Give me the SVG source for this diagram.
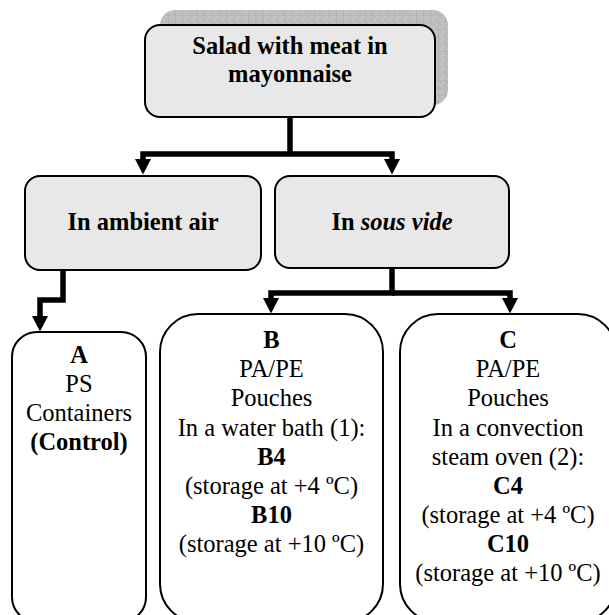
<svg xmlns="http://www.w3.org/2000/svg" width="609" height="615" viewBox="0 0 609 615">
<style>
.b{font-weight:bold}
.gray{fill:#e8e8e8;stroke:#000;stroke-width:2}
.white{fill:#fff;stroke:#000;stroke-width:2}
.conn{fill:none;stroke:#000;stroke-width:5.5;stroke-linejoin:miter;stroke-linecap:butt}
</style>
<defs>
<pattern id="grid" width="7.3" height="7.3" patternUnits="userSpaceOnUse">
<rect width="7.3" height="7.3" fill="#c2c2c2"/>
<path d="M0,0 H7.3 M0,0 V7.3" stroke="#a4a4a4" stroke-width="1"/>
<rect x="2" y="2" width="1.6" height="1.6" fill="#b2b2b2"/>
<rect x="4.6" y="4.6" width="1.6" height="1.6" fill="#b2b2b2"/>
</pattern>
<marker id="ah" markerUnits="userSpaceOnUse" markerWidth="17" markerHeight="18" viewBox="0 -9 17 18" refX="0" refY="0" orient="auto">
<path d="M0,-8 L15.5,0 L0,8 Z" fill="#000"/>
</marker>
</defs>
<g id="connectors">
<path class="conn" d="M290,117 V154 M290,154 H143 V159" marker-end="url(#ah)"/>
<path class="conn" d="M290,154 H392 V159" marker-end="url(#ah)"/>
<path class="conn" d="M63,270 V300 H40 V316" marker-end="url(#ah)"/>
<path class="conn" d="M392,268 V293 H271 V298" marker-end="url(#ah)"/>
<path class="conn" d="M392,293 H510 V298" marker-end="url(#ah)"/>
</g>
<g font-family="'Liberation Serif', 'Times New Roman', 'DejaVu Serif', serif" font-size="24.5" text-anchor="middle" fill="#000">
<g id="root">
<rect x="160" y="10" width="288" height="95" rx="15" fill="url(#grid)"/>
<rect class="gray" x="145" y="25" width="290" height="92" rx="15"/>
<text class="b" x="290" y="54">Salad with meat in</text>
<text class="b" x="290" y="82">mayonnaise</text>
</g>
<g id="ambient">
<rect class="gray" x="25" y="176" width="236" height="94" rx="15"/>
<text class="b" x="143" y="230">In ambient air</text>
</g>
<g id="sousvide">
<rect class="gray" x="275" y="176" width="234" height="92" rx="15"/>
<text class="b" x="392" y="230">In <tspan font-style="italic">sous vide</tspan></text>
</g>
<g id="nodeA">
<rect class="white" x="12" y="332" width="134" height="290" rx="25"/>
<text class="b" x="79" y="363">A</text>
<text x="79" y="392">PS</text>
<text x="79" y="421">Containers</text>
<text class="b" x="79" y="450">(Control)</text>
</g>
<g id="nodeB">
<rect class="white" x="160" y="314" width="223" height="308" rx="38"/>
<text class="b" x="271.5" y="348">B</text>
<text x="271.5" y="377">PA/PE</text>
<text x="271.5" y="406">Pouches</text>
<text x="271.5" y="436">In a water bath (1):</text>
<text class="b" x="271.5" y="465">B4</text>
<text x="271.5" y="494">(storage at +4 ºC)</text>
<text class="b" x="271.5" y="523">B10</text>
<text x="271.5" y="552">(storage at +10 ºC)</text>
</g>
<g id="nodeC">
<rect class="white" x="400" y="314" width="216" height="308" rx="38"/>
<text class="b" x="508" y="348">C</text>
<text x="508" y="377">PA/PE</text>
<text x="508" y="406">Pouches</text>
<text x="508" y="436">In a convection</text>
<text x="508" y="465">steam oven (2):</text>
<text class="b" x="508" y="494">C4</text>
<text x="508" y="523">(storage at +4 ºC)</text>
<text class="b" x="508" y="552">C10</text>
<text x="508" y="581">(storage at +10 ºC)</text>
</g>
</g>
</svg>
